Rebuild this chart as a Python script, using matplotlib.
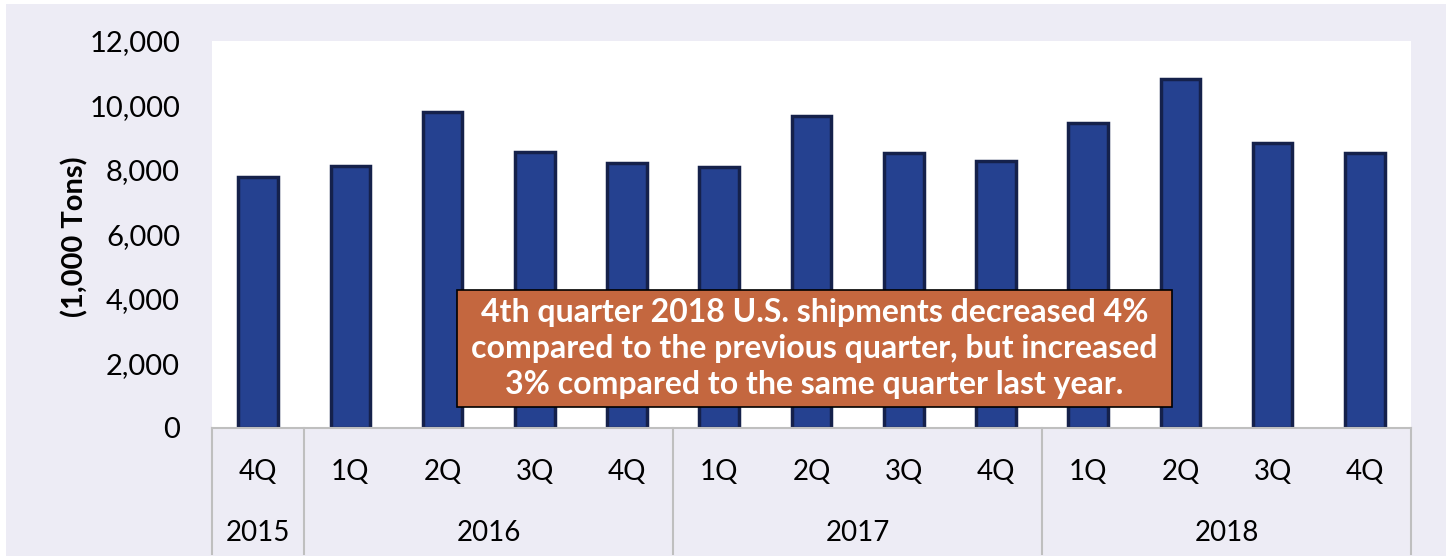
import matplotlib.pyplot as plt
from matplotlib.patches import Rectangle
from matplotlib.ticker import FuncFormatter
import matplotlib.transforms as mtransforms

# shipments per quarter, 1,000 tons
quarters = ["4Q", "1Q", "2Q", "3Q", "4Q", "1Q", "2Q", "3Q", "4Q", "1Q", "2Q", "3Q", "4Q"]
years = ["2015", "2016", "2017", "2018"]
year_counts = [1, 4, 4, 4]
shipments = [7780, 8120, 9800, 8560, 8220, 8090, 9670, 8530, 8280, 9460, 10820, 8840, 8530]
y_ticks = [0, 2000, 4000, 6000, 8000, 10000, 12000]

note = ("4th quarter 2018 U.S. shipments decreased 4%\n"
        "compared to the previous quarter, but increased\n"
        "3% compared to the same quarter last year.")

plt.rcParams['font.family'] = ['Lato', 'DejaVu Sans']

W, H = 1447, 558
fig = plt.figure(figsize=(W / 100, H / 100), dpi=100)
fig.patch.set_facecolor("white")
# lavender chart area background
fig.patches.append(Rectangle((6 / W, 2 / H), 1440 / W, 552 / H, transform=fig.transFigure,
                             facecolor="#EDECF5", edgecolor="none", zorder=-10))

ax = fig.add_axes([212 / W, (H - 428) / H, 1199 / W, 387 / H])
ax.set_facecolor("white")

x = list(range(len(shipments)))
ax.bar(x, shipments, width=0.43, color="#254190", edgecolor="#15214B", linewidth=2.5, zorder=2)

ax.set_xlim(-0.5, len(shipments) - 0.5)
ax.set_ylim(0, 12000)
ax.set_yticks(y_ticks)
ax.yaxis.set_major_formatter(FuncFormatter(lambda v, p: f"{int(v):,}"))
ax.tick_params(axis="y", length=0, pad=23, labelsize=21, labelcolor="black")
ax.set_xticks([])
for s in ["top", "right", "left"]:
    ax.spines[s].set_visible(False)
ax.spines["bottom"].set_color("#BFBFBF")
ax.spines["bottom"].set_linewidth(1.5)
ax.set_ylabel("(1,000 Tons)", fontsize=21, fontweight="bold")
ax.yaxis.set_label_coords(-0.103, 0.494)

# two-level category axis
trans = mtransforms.blended_transform_factory(ax.transData, ax.transAxes)
for i, q in enumerate(quarters):
    ax.text(i, -0.114, q, transform=trans, ha="center", va="center", fontsize=20)
start = 0
bounds = [-0.5]
for yr, n in zip(years, year_counts):
    mid = start + (n - 1) / 2
    ax.text(mid, -0.271, yr, transform=trans, ha="center", va="center", fontsize=20)
    start += n
    bounds.append(start - 0.5)
for b in bounds:
    ax.plot([b, b], [0, -0.326], transform=trans, color="#BFBFBF", lw=1.5, clip_on=False)

# callout box
ax.add_patch(Rectangle((0.2043, 0.0543), 0.5964, 0.3023, transform=ax.transAxes,
                       facecolor="#C4673F", edgecolor="black", linewidth=1.2, zorder=5))
ax.text(0.5025, 0.2054, note, transform=ax.transAxes, ha="center", va="center",
        fontsize=23, fontweight="bold", color="white", linespacing=1.3, zorder=6)

fig.savefig("out.png", dpi=100)
